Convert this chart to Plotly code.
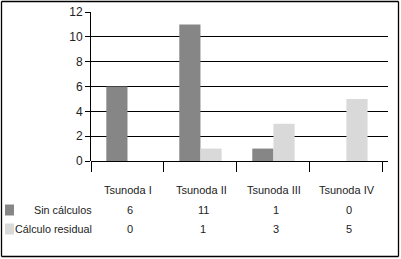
import plotly.graph_objects as go

categories = ["Tsunoda I", "Tsunoda II", "Tsunoda III", "Tsunoda IV"]
series_names = ["Sin cálculos", "Cálculo residual"]
sin_calculos = [6, 11, 1, 0]
calculo_residual = [0, 1, 3, 5]
y_ticks = [0, 2, 4, 6, 8, 10, 12]

colors = ["#868686", "#d9d9d9"]
FONT = "Liberation Sans, Arial, sans-serif"

W, H = 401, 259
L, R, T, B = 91, 13, 12, 98
pw = W - L - R
ph = H - T - B

def px_x(x):
    return (x - L) / pw

def px_y(y):
    return (H - B - y) / ph

xs = list(range(len(categories)))
fig = go.Figure()
series = [sin_calculos, calculo_residual]
for name, vals, c in zip(series_names, series, colors):
    fig.add_trace(go.Bar(x=xs, y=vals, name=name, marker=dict(color=c, line=dict(width=0)),
                         showlegend=False, hoverinfo="skip"))

shapes = []
annotations = []
# category header row
for i, cat in enumerate(categories):
    annotations.append(dict(x=i, xref="x", y=px_y(190), yref="paper", text=cat, showarrow=False,
                            xanchor="center", yanchor="middle", xshift=1,
                            font=dict(family=FONT, size=11, color="#222")))
# data rows
row_y = [210, 229]
for r, (name, vals, c) in enumerate(zip(series_names, series, colors)):
    annotations.append(dict(x=px_x(94), xref="paper", y=px_y(row_y[r]), yref="paper", text=name,
                            showarrow=False, xanchor="right", yanchor="middle",
                            font=dict(family=FONT, size=10.8, color="#222")))
    for i, v in enumerate(vals):
        annotations.append(dict(x=i, xref="x", y=px_y(row_y[r]), yref="paper", text=str(v),
                                showarrow=False, xanchor="center", yanchor="middle", xshift=3,
                                font=dict(family=FONT, size=11, color="#222")))
    shapes.append(dict(type="rect", xref="paper", yref="paper",
                       x0=px_x(5), x1=px_x(14), y0=px_y(row_y[r] - 5.5), y1=px_y(row_y[r] + 5.5),
                       fillcolor=c, line=dict(width=0)))
# outer border as four lines
bx0, bx1, by0, by1 = 1.5, 398.5, 1.5, 256.5
for (xa, ya, xb, yb) in [(bx0, by0, bx1, by0), (bx1, by0, bx1, by1),
                         (bx0, by1, bx1, by1), (bx0, by0, bx0, by1)]:
    shapes.append(dict(type="line", xref="paper", yref="paper",
                       x0=px_x(xa), y0=px_y(ya), x1=px_x(xb), y1=px_y(yb),
                       line=dict(color="#000", width=1.3), layer="above"))

fig.update_layout(
    width=W, height=H,
    margin=dict(l=L, r=R, t=T, b=B, autoexpand=False),
    paper_bgcolor="white", plot_bgcolor="white",
    barmode="group", bargap=0.42, bargroupgap=0,
    shapes=shapes, annotations=annotations,
    font=dict(family=FONT, size=12, color="#222"),
)
fig.update_xaxes(range=[-0.5, 3.57], tickmode="array", tickvals=[-0.5, 0.5, 1.5, 2.5, 3.5],
                 ticktext=["", "", "", "", ""], ticks="outside", ticklen=10, tickcolor="#000",
                 showline=False, showgrid=False, zeroline=False, fixedrange=True, automargin=False)
fig.update_yaxes(range=[0, 12], tickmode="array", tickvals=y_ticks, ticks="outside", ticklen=5,
                 tickcolor="#000", showline=True, linecolor="#000", linewidth=1,
                 showgrid=True, gridcolor="#000", gridwidth=1, zeroline=True, zerolinecolor="#000",
                 zerolinewidth=1, tickfont=dict(family=FONT, size=12, color="#222"), automargin=False,
                 fixedrange=True)

fig.write_html("out.html", config={"displayModeBar": False, "staticPlot": True},
               post_script="document.body.style.margin='0';")
